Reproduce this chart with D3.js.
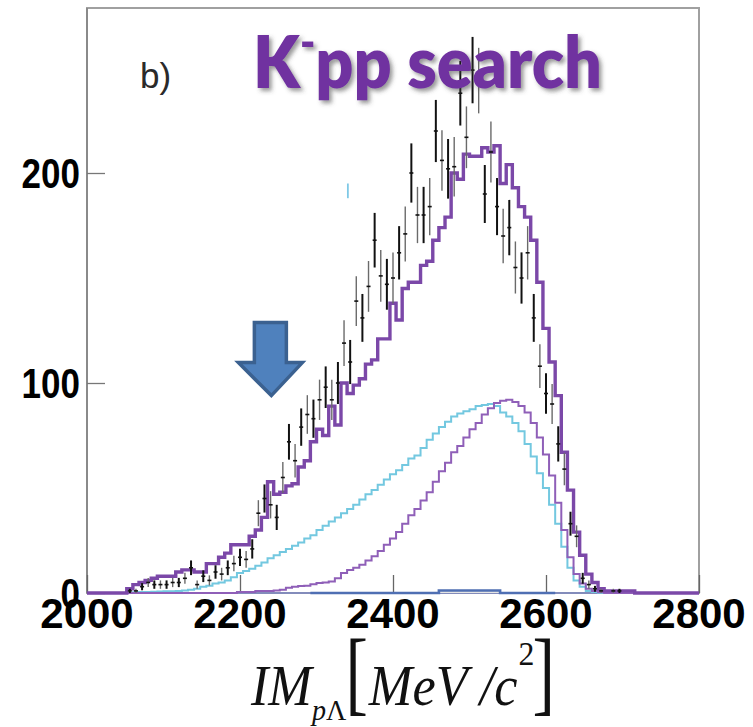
<!DOCTYPE html>
<html><head><meta charset="utf-8">
<script src="https://cdn.jsdelivr.net/npm/d3@7"></script>
<style>html,body{margin:0;padding:0;background:#fff;} svg{display:block}</style>
</head><body>
<svg id="chart" width="753" height="727"></svg>
<script>
// ---------------- data ----------------
const binStart = 2004, binWidth = 8;          // MeV, histogram binning
const xTicks = [2000, 2200, 2400, 2600, 2800];
const yTicks = [0, 100, 200];

// total fit (thick purple), bins 0..98
const totalFit = [
  0,0,0,0,0,0,2,4,5,6,
  7,8,8,8,10,11,11,10,10,14,
  14,17,19,23,23,23,27,30,36,53,
  47,48,51,52,60,63,72,78,75,89,
  80,100,95,99,102,109,111,121,121,138,
  130,145,148,148,156,158,168,174,179,200,
  197,209,208,208,212,210,213,195,204,193,
  184,179,168,148,126,110,94,67,49,29,
  18,9,5,2,1,1,1,1,1,0,
  0,0,0,0,0,0,0,0,0
];
// component 1 (light blue)
const cyanComp = [
  0,0,0,0,0,0,0,0.3,0.5,0.5,
  0.6,0.7,0.8,0.8,1,1.2,1.5,2,3,3.5,
  4.5,5,6,7.5,9.5,10.5,11.5,13,14.5,16.5,
  18,19.5,21,22.5,24,26,27.5,30,32,34,
  36,38,40,42,44.5,47,49,51.5,54,56.5,
  58.5,61,64,65.5,69,73,76,79,81.5,84,
  85.5,86.5,87.5,89,89.5,90,89,86,84,81,
  77,71,65,57,50,42,33,22,12,6,
  3,1,0.5,0,0,0,0,0,0,0,
  0,0,0,0,0,0,0,0,0
];
// component 2 (thin purple)
const purpleComp = [
  0,0,0,0,0,0,0,0,0,0,
  0,0,0,0,0,0,0,0,0,0,
  0,0,0,0,0.5,0.5,0.5,1,1,1,
  1.2,1.5,2.5,3,3.3,3.5,4.2,4.8,5,5.5,
  7,9.5,11,12,13.5,15.5,17.5,20,23,26,
  29,33,37,40,44,48,53,58,62,67,
  70,74,78,81,85,88,90.5,91.5,92,91,
  89,86,81,74,66,56,43,30,17,9,
  4.5,2,1,0.3,0,0,0,0,0,0,
  0,0,0,0,0,0,0,0,0
];
// component 3 (blue, near zero), bins 36..75
const bkgStartBin = 36;
const bkgComp = [
  0,0,0,0,0,0,0,0,0,0,
  0,0,0,0,0,0,0,0,0,0,
  0,1.2,1.2,1.2,1.2,1.2,1.2,1.2,1.2,1.2,
  1.2,0,0,0,0,0,0,0,0,0
];
// measured data, bins 6..86
const dataStartBin = 6;
const dataCounts = [
  1,1,3,5,4,4,4,5,5,7,
  12,4,8,6,10,9,12,14,17,16,
  21,38,45,42,36,55,72,63,79,85,
  83,92,98,92,100,119,110,139,131,146,
  168,151,147,150,162,171,200,180,180,184,
  220,206,202,203,238,217,249,244,190,210,
  184,170,174,155,150,162,131,108,95,90,
  71,59,33,27,7,4,2,1,null,1,
  1
];
const dataErrors = [
  1,1,1.7,2.2,2,2,2,2.2,2.2,2.6,
  3.5,2,2.8,2.4,3.2,3,3.5,3.7,4.1,4,
  4.6,6.2,6.7,6.5,6,7.4,8.5,8,8.9,9.2,
  9.1,9.6,9.9,9.6,10,10.9,10.5,11.8,11.4,12.1,
  13,12.3,12.1,12.2,12.7,13.1,14.1,13.4,13.4,13.6,
  14.8,14.4,14.2,14.2,15.4,14.7,15.8,15.6,13.8,14.5,
  13.6,13,13.2,12.4,12.2,12.7,11.4,10.4,9.7,9.5,
  8.4,7.7,5.7,5.2,2.6,2,1.4,1,null,1,
  1
];
const strayMark = {mev: 2341, lo: 188, hi: 195};
const arrowTip = {mev: 2241, count: 94};

// ---------------- drawing ----------------
const svg = d3.select('#chart');
const x = d3.scaleLinear().domain([2000, 2800]).range([87, 699]);
const y = d3.scaleLinear().domain([0, 200]).range([593, 173]);
const yTop = 8;

const defs = svg.append('defs');
const f = defs.append('filter').attr('id','shadow').attr('x','-10%').attr('y','-20%').attr('width','130%').attr('height','150%');
f.append('feDropShadow').attr('dx',3).attr('dy',3).attr('stdDeviation',2).attr('flood-color','#444').attr('flood-opacity',0.55);
defs.append('clipPath').attr('id','plot').append('rect')
  .attr('x', x(2000)).attr('y', yTop).attr('width', x(2800)-x(2000)).attr('height', y(0)-yTop+3);

// frame
svg.append('rect').attr('x', x(2000)).attr('y', yTop)
  .attr('width', x(2800)-x(2000)).attr('height', y(0)-yTop)
  .attr('fill','none').attr('stroke','#a0a0a0').attr('stroke-width',2);
svg.append('line').attr('x1',x(2000)).attr('x2',x(2000)).attr('y1',yTop).attr('y2',y(0))
  .attr('stroke','#8a8a8a').attr('stroke-width',2);

// ticks (inside)
const gx = svg.append('g').attr('transform',`translate(0,${y(0)})`)
  .call(d3.axisBottom(x).tickValues(xTicks).tickSize(-18).tickFormat(''));
gx.select('.domain').remove();
gx.selectAll('line').attr('stroke','#666').attr('stroke-width',1.3);
const gy = svg.append('g').attr('transform',`translate(${x(2000)},0)`)
  .call(d3.axisLeft(y).tickValues(yTicks).tickSize(-18).tickFormat(''));
gy.select('.domain').remove();
gy.selectAll('line').attr('stroke','#777').attr('stroke-width',1.3);

const plot = svg.append('g').attr('clip-path','url(#plot)');

function stepPath(values, startBin, extend) {
  const pts = values.map((v,i) => [binStart + (startBin+i)*binWidth, v]);
  const endE = binStart + (startBin+values.length)*binWidth;
  pts.push([endE, values[values.length-1]]);
  if (extend) { pts.unshift([2000, values[0]]); pts.push([2800, values[values.length-1]]); }
  return d3.line().x(d => x(d[0])).y(d => y(d[1])).curve(d3.curveStepAfter)(pts);
}

// baseline
plot.append('line').attr('x1',x(2000)).attr('x2',x(2800)).attr('y1',y(0)).attr('y2',y(0))
  .attr('stroke','#7a86c4').attr('stroke-width',1.5);

// blue component with light fill
const bkgPts = bkgComp.map((v,i)=>[binStart+(bkgStartBin+i)*binWidth, v]);
bkgPts.push([binStart+(bkgStartBin+bkgComp.length)*binWidth, 0]);
plot.append('path')
  .attr('d', d3.area().x(d=>x(d[0])).y0(y(0)).y1(d=>y(d[1])).curve(d3.curveStepAfter)(bkgPts))
  .attr('fill','#e4e4e4');
plot.append('path').attr('d', stepPath(bkgComp, bkgStartBin, false))
  .attr('fill','none').attr('stroke','#4f6fb3').attr('stroke-width',2.6);

// components
plot.append('path').attr('d', stepPath(cyanComp, 0, true))
  .attr('fill','none').attr('stroke','#73c8e0').attr('stroke-width',2);
plot.append('path').attr('d', stepPath(purpleComp, 0, true))
  .attr('fill','none').attr('stroke','#8f5fb8').attr('stroke-width',2);

// total fit
plot.append('path').attr('d', stepPath(totalFit, 0, true))
  .attr('fill','none').attr('stroke','#7b48a8').attr('stroke-width',3.4);

// data points with error bars
const pts = dataCounts.map((v,i)=>({
  mev: binStart + (dataStartBin+i+0.5)*binWidth, v, e: dataErrors[i], k: dataStartBin+i
})).filter(d => d.v !== null);
const dg = plot.append('g');
dg.selectAll('line.err').data(pts).join('line').attr('class','err')
  .attr('x1',d=>x(d.mev)).attr('x2',d=>x(d.mev))
  .attr('y1',d=>y(d.v+d.e)).attr('y2',d=>y(Math.max(0,d.v-d.e)))
  .attr('stroke',d => d.k%2 ? '#6a6a6a' : '#111').attr('stroke-width',d => d.k%2 ? 1.4 : 2);
dg.selectAll('line.mk').data(pts).join('line').attr('class','mk')
  .attr('x1',d=>x(d.mev)-2).attr('x2',d=>x(d.mev)+2)
  .attr('y1',d=>y(d.v)).attr('y2',d=>y(d.v))
  .attr('stroke','#111').attr('stroke-width',1.6);

// stray light-blue mark
plot.append('line').attr('x1',x(strayMark.mev)).attr('x2',x(strayMark.mev))
  .attr('y1',y(strayMark.hi)).attr('y2',y(strayMark.lo))
  .attr('stroke','#7fc9e6').attr('stroke-width',1.8);

// arrow annotation
const tx = x(arrowTip.mev), ty = y(arrowTip.count);
const ap = [[0,0],[-33,-33],[-17,-33],[-17,-73],[15,-73],[15,-33],[31,-33]];
svg.append('path').attr('d', d3.line()(ap.map(p=>[tx+p[0], ty+p[1]])) + 'Z')
  .attr('fill','#4f81bd').attr('stroke','#3b6190').attr('stroke-width',3.5).attr('stroke-linejoin','miter');

// tick labels
const tickFont = '"Liberation Sans", Arial, sans-serif';
xTicks.forEach(t => {
  svg.append('text').attr('x', x(t)).attr('y', 628)
    .attr('text-anchor','middle').attr('font-family',tickFont).attr('font-weight',700)
    .attr('font-size',42).attr('fill','#000').text(t);
});
yTicks.forEach(t => {
  svg.append('text').attr('transform',`translate(80,${y(t)+15}) scale(1,1.2)`)
    .attr('text-anchor','end').attr('font-family',tickFont).attr('font-weight',700)
    .attr('font-size',35).attr('fill','#000').text(t);
});

// panel label
svg.append('text').attr('x',140).attr('y',88).attr('font-family',tickFont)
  .attr('font-size',35).attr('fill','#2a2a2a').text('b)');

// title
const title = svg.append('text').attr('font-family','Lato, "Open Sans", sans-serif')
  .attr('font-weight',800).attr('font-size',71).attr('fill','#7030a0');
title.append('tspan').text('K');
title.append('tspan').attr('font-size',44).attr('dy',-30).text('-');
title.append('tspan').attr('dy',30).text('pp search');
const tb = title.node().getBBox();
const sx = 349 / tb.width;
title.attr('transform',`translate(${253 - tb.x*sx},88) scale(${sx},1)`).attr('filter','url(#shadow)');

// x-axis title
const serif = '"Liberation Serif", "Times New Roman", serif';
const pieces = [
  {t:'IM', s:56, it:true, b:705, gap:0, sy:1},
  {t:'p', s:30, it:true, b:720, gap:0, sy:1},
  {t:'Λ', s:30, it:false, b:720, gap:0, sy:1},
  {t:'[', s:72, it:false, b:704, gap:-1, sy:1.28},
  {t:'MeV /c', s:56, it:true, b:705, gap:1, sy:1},
  {t:'2', s:34, it:false, b:665, gap:1, sy:1},
  {t:']', s:72, it:false, b:704, gap:-2, sy:1.28}
];
const xt = svg.append('g');
let cx = 0;
pieces.forEach(p => {
  cx += p.gap;
  const el = xt.append('text').attr('transform',`translate(${cx},${p.b}) scale(1,${p.sy})`)
    .attr('font-family',serif)
    .attr('font-size',p.s).attr('font-style',p.it?'italic':'normal').attr('fill','#111').text(p.t);
  cx += el.node().getComputedTextLength();
});
const xb = xt.node().getBBox();
const xs = 305 / xb.width;
xt.attr('transform',`translate(${250 - xb.x*xs},0) scale(${xs},1)`);
</script>
</body></html>
